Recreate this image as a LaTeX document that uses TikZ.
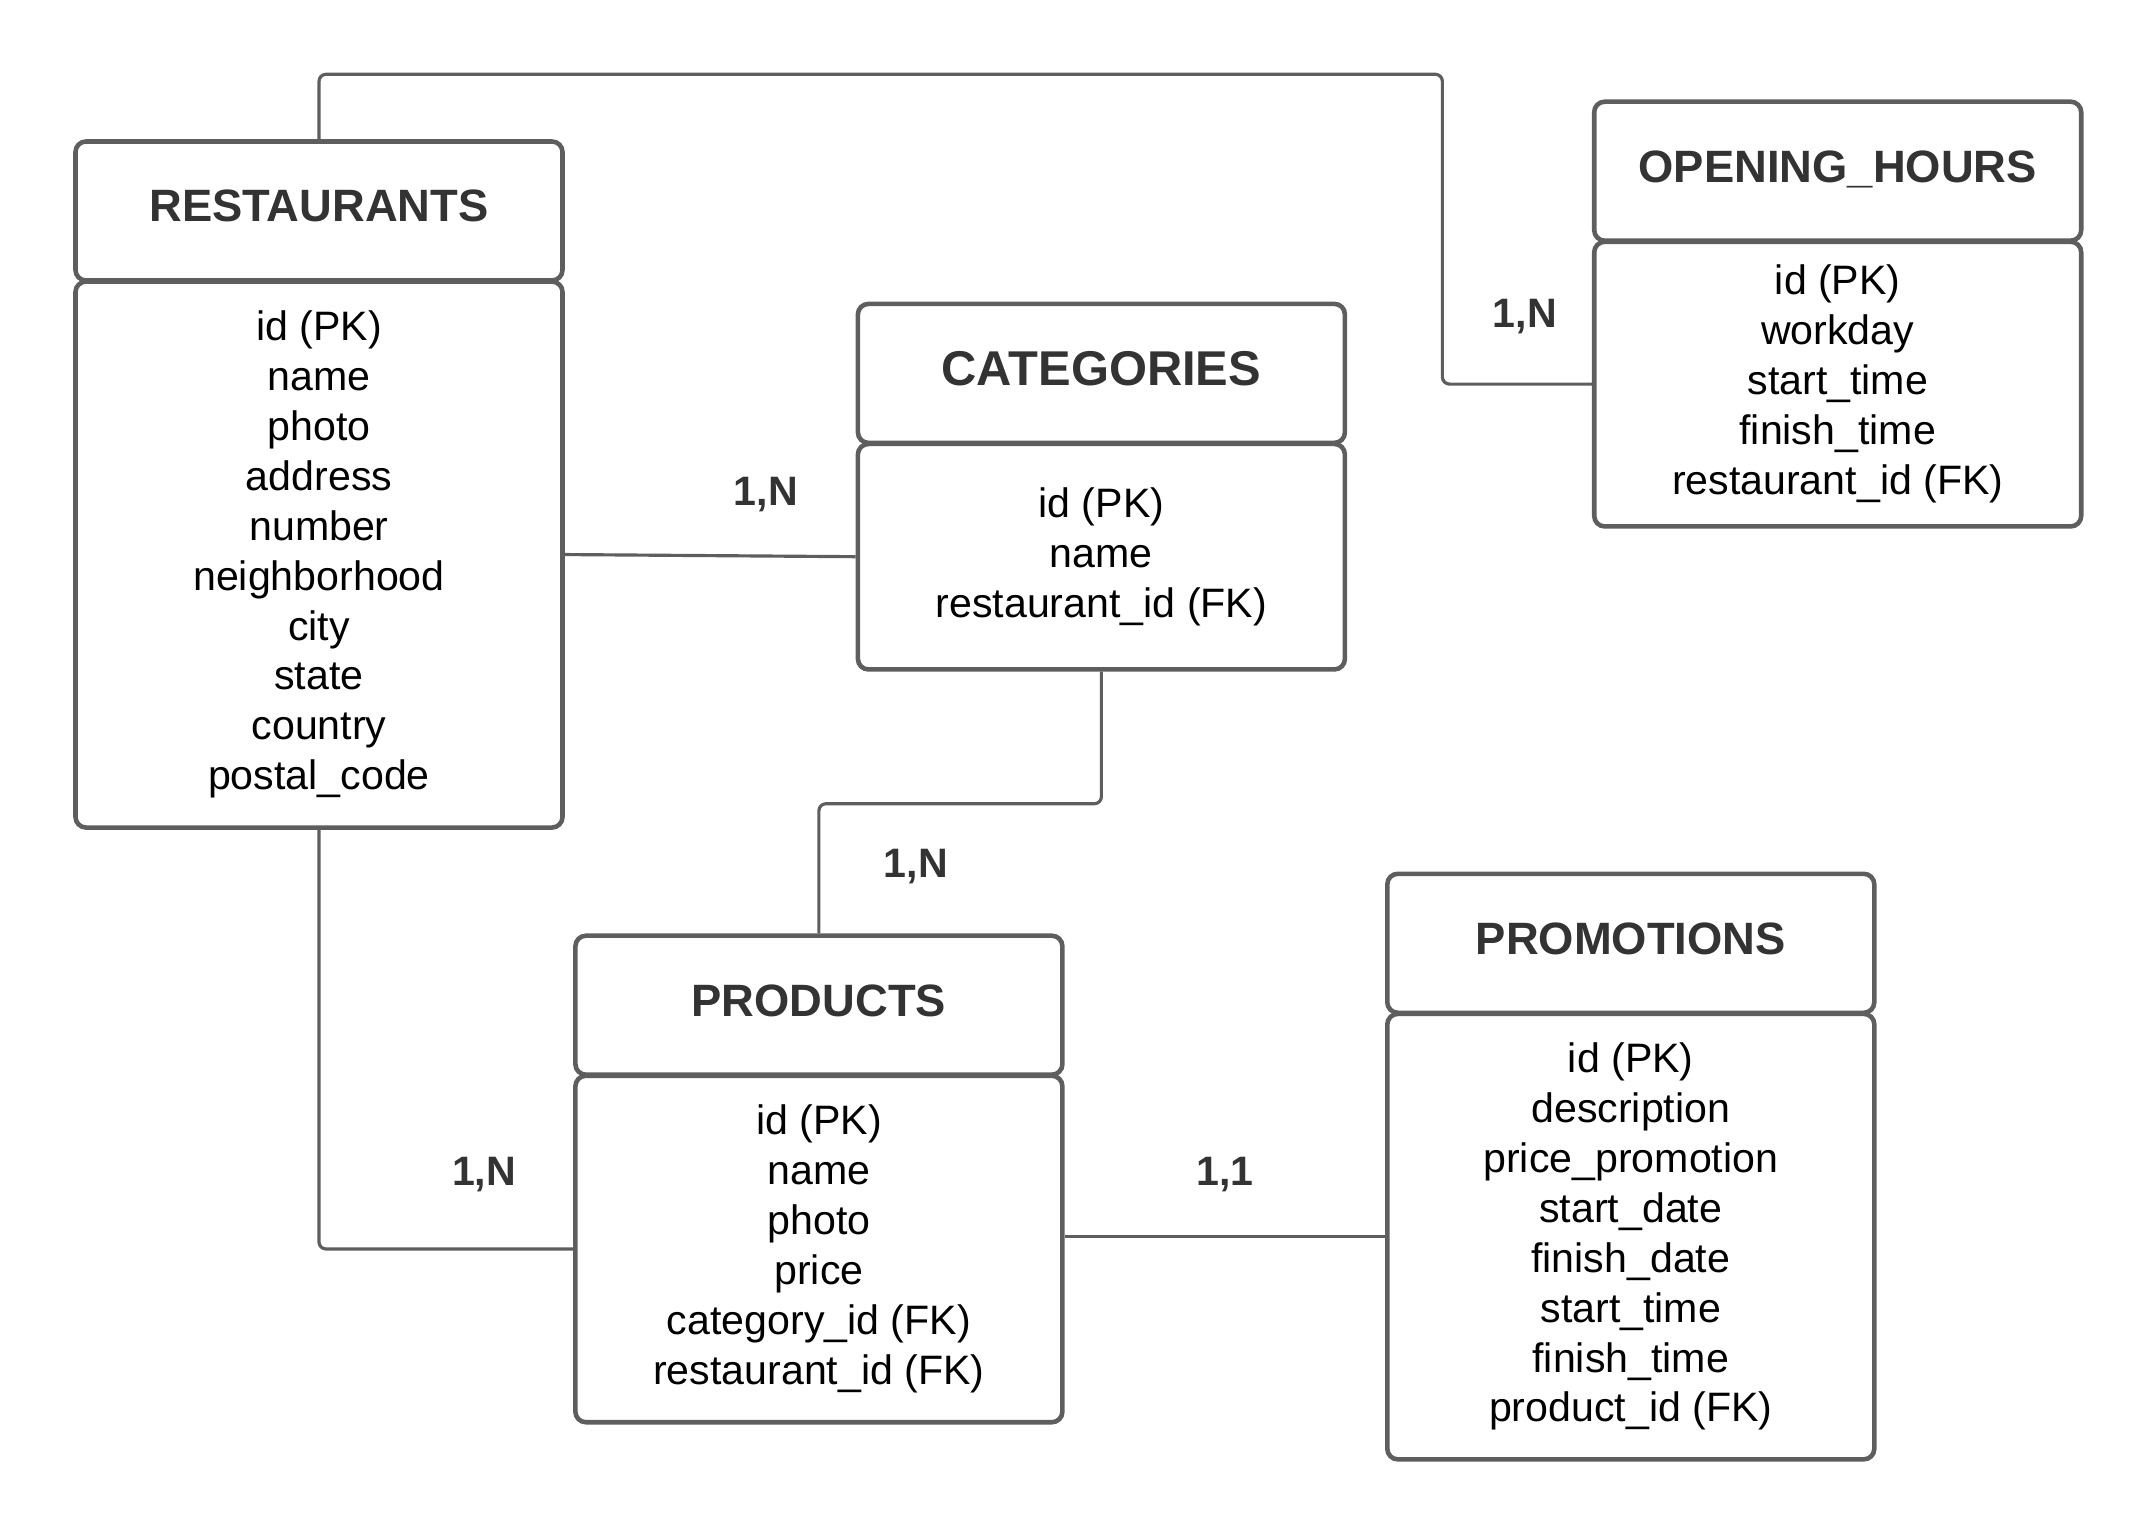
\documentclass[tikz,border=0pt]{standalone}
\usepackage{fontspec}
\setmainfont{Liberation Sans}
\usepackage{tikz}
\usetikzlibrary{positioning}
\definecolor{edgegray}{HTML}{5E5E5E}
\definecolor{titlegray}{HTML}{333333}

\begin{document}
\begin{tikzpicture}[
    node distance=-1pt,
    entity/.style={rectangle, draw=edgegray, line width=1.3pt, rounded corners=3pt, minimum width=4.87cm, minimum height=1.39cm, text depth=0.1cm, text=titlegray, font=\fontsize{12.9}{15}\selectfont\bfseries},
    attrs/.style={rectangle, draw=edgegray, line width=1.3pt, rounded corners=3pt, minimum width=4.87cm, align=center, font=\fontsize{11.7}{14.2}\selectfont},
    link/.style={draw=edgegray, line width=0.9pt, rounded corners=2pt},
    card/.style={text=titlegray, font=\fontsize{11.7}{14}\selectfont\bfseries}
]
    \useasboundingbox (0,0) rectangle (21.56,-15.34);

    % Tables: title box with the attribute box right under it
    \node [entity] (resth) at (3.19,-2.11) {RESTAURANTS};
    \node [attrs, below=of resth, minimum height=5.46cm] (restb) {id (PK)\\name\\photo\\address\\number\\neighborhood\\city\\state\\country\\postal\_code};

    \node [entity, font=\fontsize{13.9}{16}\selectfont\bfseries] (cath) at (11.014,-3.734) {CATEGORIES};
    \node [attrs, below=of cath, minimum height=2.255cm] (catb) {id (PK)\\name\\restaurant\_id (FK)};

    \node [entity] (hoursh) at (18.377,-1.712) {OPENING\_HOURS};
    \node [attrs, below=of hoursh, minimum height=2.847cm] (hoursb) {id (PK)\\workday\\start\_time\\finish\_time\\restaurant\_id (FK)};

    \node [entity] (prodh) at (8.189,-10.052) {PRODUCTS};
    \node [attrs, below=of prodh, minimum height=3.465cm] (prodb) {id (PK)\\name\\photo\\price\\category\_id (FK)\\restaurant\_id (FK)};

    \node [entity] (promh) at (16.308,-9.433) {PROMOTIONS};
    \node [attrs, below=of promh, minimum height=4.455cm] (promb) {id (PK)\\description\\price\_promotion\\start\_date\\finish\_date\\start\_time\\finish\_time\\product\_id (FK)};

    % Relationships
    \coordinate (topbend) at (14.424,-0.743);
    \draw [link] (resth.north) |- (topbend) |- (hoursb.west);
    \draw [link] (restb.east) -- (catb.west);
    \draw [link] (catb.south) -- ++(0,-1.32) -| (prodh.north);
    \draw [link] (restb.south) |- (prodb.west);
    \draw [link] (prodb.east |- promb.west) -- (promb.west);

    % Cardinalities
    \node [card] (cardhours) at (15.249,-3.163) {1,N};
    \node [card] (cardcat) at (7.659,-4.95) {1,N};
    \node [card] (cardprod) at (9.158,-8.663) {1,N};
    \node [card] (cardrest) at (4.84,-11.743) {1,N};
    \node [card] (cardpromo) at (12.251,-11.743) {1,1};

\end{tikzpicture}
\end{document}
